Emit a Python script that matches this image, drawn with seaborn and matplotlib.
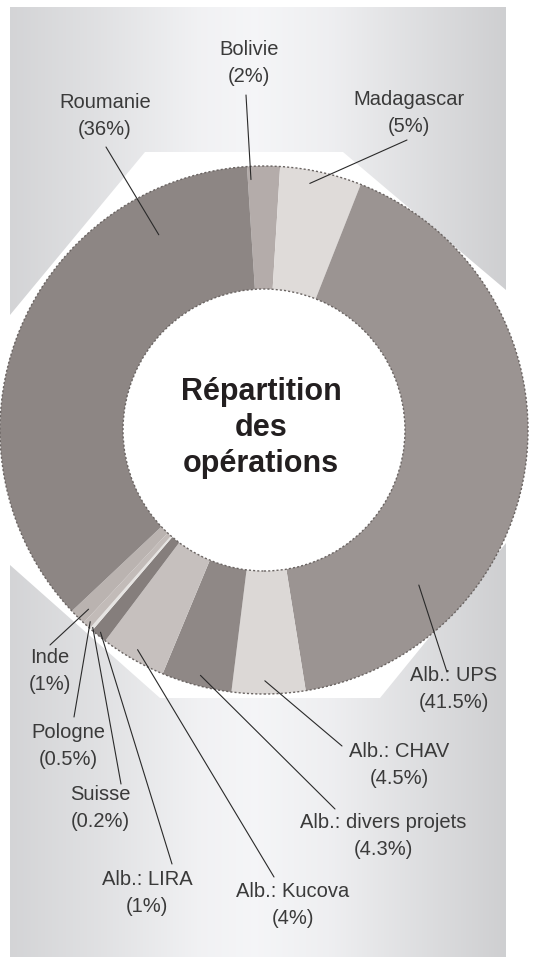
import numpy as np
import matplotlib.pyplot as plt
import matplotlib.patches as mpatches
import seaborn as sns

# Données (sens horaire depuis le haut)
operations = ['Bolivie', 'Madagascar', 'Alb.: UPS', 'Alb.: CHAV', 'Alb.: divers projets',
              'Alb.: Kucova', 'Alb.: LIRA', 'Suisse', 'Pologne', 'Inde', 'Roumanie']
parts = [2, 5, 41.5, 4.5, 4.3, 4, 1, 0.2, 0.5, 1, 36]
couleurs = ['#b4acaa', '#dfdbd9', '#9b9492', '#dcd8d6', '#8f8886',
            '#c6c0be', '#857e7c', '#e6e4e2', '#c2bbb8', '#bab3b0', '#8d8684']

# Mise en page des étiquettes (pixels, origine en haut à gauche)
texte_xy = [(249, 63), (409, 113), (454, 689), (399, 765), (383, 836),
            (293, 905), (147, 893), (100, 808), (68, 746), (50, 671), (105, 116)]
trait_fin = [(246, 95), (407, 140), (447, 672), (342, 746), (335, 809),
             (274, 877), (172, 864), (121, 784), (74, 717), (50, 645), (106, 147)]
ancre_frac = [0.1, 0.39, 0.76, 0.55, 0.48, 0.51, 0.55, 0.5, 0.5, 0.36, 0.81]
ancre_r = [0.95, 0.95, 0.83, 0.95, 0.96, 0.96, 0.985, 0.99, 0.98, 0.95, 0.84]

W, H = 534, 958
cx, cy, R, r_in = 264, H - 430, 264, 141

sns.set_theme(style='white')
plt.rcParams['font.family'] = ['Liberation Sans', 'DejaVu Sans']

fig = plt.figure(figsize=(W / 100, H / 100), dpi=100)
ax = fig.add_axes([0, 0, 1, 1])

# fond dégradé gris
xs = np.linspace(10, 506, 300)
g = np.interp(xs, [10, 100, 200, 255, 330, 420, 506],
              [0.835, 0.885, 0.950, 0.965, 0.940, 0.875, 0.815])
grad = np.dstack([g - 0.005, g - 0.003, g + 0.005]).clip(0, 1)
grad = np.repeat(grad, 2, axis=0)
ax.imshow(grad, extent=[10, 506, H - 957, H - 7], aspect='auto', zorder=0)

# octogone blanc derrière l'anneau
octo = [(145, 152), (343, 152), (506, 290), (506, 543), (380, 698),
        (160, 698), (10, 565), (10, 315)]
ax.add_patch(mpatches.Polygon([(x, H - y) for x, y in octo], closed=True,
                              facecolor='white', edgecolor='none', zorder=1))

wedges, _ = ax.pie(parts, colors=couleurs, startangle=93.7, counterclock=False,
                   center=(cx, cy), radius=R,
                   wedgeprops=dict(width=R - r_in, linewidth=0))
for w in wedges:
    w.set_zorder(2)

# liseré pointillé
for rr in (R, r_in):
    ax.add_patch(mpatches.Circle((cx, cy), rr, fill=False, edgecolor='#6a6462',
                                 linewidth=1.0, linestyle=(0, (1.5, 1.5)), zorder=3))

# étiquettes et traits de rappel
for w, nom, val, (tx, ty), (lx, ly), f, rf in zip(wedges, operations, parts, texte_xy,
                                                 trait_fin, ancre_frac, ancre_r):
    ang = np.deg2rad(w.theta2 - f * (w.theta2 - w.theta1))
    axx = cx + rf * R * np.cos(ang)
    ayy = cy + rf * R * np.sin(ang)
    ax.plot([axx, lx], [ayy, H - ly], color='#2a2a2a', linewidth=0.8, zorder=5)
    ax.text(tx, H - ty, f'{nom}\n({val:g}%)', ha='center', va='center',
            fontsize=14.5, color='#3a3a3a', linespacing=1.47, zorder=6)

ax.text(cx - 3, H - 428, 'Répartition\ndes\nopérations', ha='center', va='center',
        fontsize=22, fontweight='bold', color='#231f20', linespacing=1.24, zorder=6)

ax.set_xlim(0, W)
ax.set_ylim(0, H)
ax.set_aspect('auto')
ax.axis('off')

fig.savefig('out.png', dpi=100, facecolor='white')
